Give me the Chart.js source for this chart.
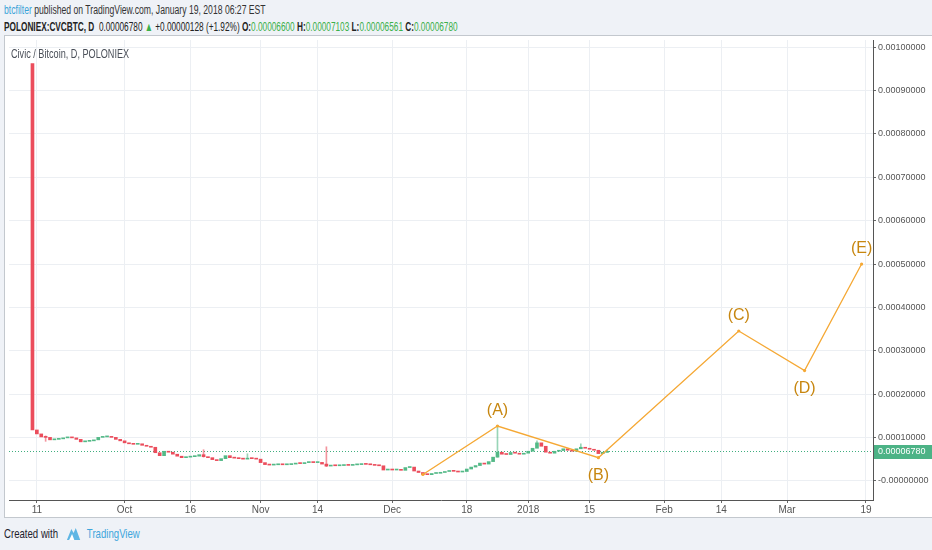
<!DOCTYPE html>
<html>
<head>
<meta charset="utf-8">
<script src="https://cdn.jsdelivr.net/npm/chart.js@4.4.1/dist/chart.umd.min.js"></script>
<style>
  body { margin: 0; width: 932px; height: 550px; overflow: hidden; position: relative;
         background: #eff2f7; font-family: "Liberation Sans", Arial, sans-serif; }
  .narrow { transform-origin: 0 50%; white-space: nowrap; position: absolute; }
  .line1 { left: 4px; top: 3px; font-size: 12.5px; color: #333; transform: scaleX(0.69); }
  .line1 .user { color: #3aa2d8; }
  .line2 { left: 4px; top: 20px; font-size: 12.5px; color: #222; transform: scaleX(0.66); }
  .line2 b { font-weight: bold; }
  .line2 .g { color: #3bb04a; }
  .frame { position: absolute; left: 4px; top: 35px; width: 927px; height: 481px;
           border: 1px solid #c3c8ce; border-right: none; background: #fff; }
  .frame canvas { position: absolute; left: 0; top: 0; }
  .title { left: 6px; top: 11px; font-size: 12px; color: #4a4f58; transform: scaleX(0.76); }
  .footer { left: 4px; top: 526px; font-size: 13px; color: #1e222d; transform: scaleX(0.74); }
  .footer .tv { color: #3ea6dc; }
  .footer svg { vertical-align: -3px; margin: 0 6px 0 9px; }
</style>
</head>
<body>
<div class="narrow line1"><span class="user">btcfilter</span> published on TradingView.com, January 19, 2018 06:27 EST</div>
<div class="narrow line2"><b>POLONIEX:CVCBTC, D</b>&nbsp; 0.00006780 <span class="g">&#9650;</span> +0.00000128 (+1.92%) <b>O:</b><span class="g">0.00006600</span> <b>H:</b><span class="g">0.00007103</span> <b>L:</b><span class="g">0.00006561</span> <b>C:</b><span class="g">0.00006780</span></div>
<div class="frame">
  <canvas id="chart" width="927" height="481"></canvas>
  <div class="narrow title">Civic / Bitcoin, D, POLONIEX</div>
</div>
<div class="narrow footer">Created with<svg width="24" height="15" viewBox="0 0 20 15"><path d="M1 14 L7 3 L10 7 L13 2 L19 14 Z" fill="#5fb6e4"/><path d="M4 14 L8 8 L11 14 Z" fill="#fff"/></svg><span class="tv">TradingView</span></div>

<script>
// daily candles, first candle is Sep 10 (day -1, day 0 = Sep 11)
const firstDay = -1;
const firstOpen = 0.000962;
const closes = [
  0.0001175, 0.0001084, 0.0001015, 0.0001004, 0.0000947, 0.0000958, 0.0000970, 0.0000992, 0.0001015, 0.0000992,
  0.0000958, 0.0000901, 0.0000913, 0.0000924, 0.0000947, 0.0001004, 0.0001015, 0.0001027, 0.0001004, 0.0000958,
  0.0000924, 0.0000878, 0.0000856, 0.0000844, 0.0000856, 0.0000821, 0.0000799, 0.0000776, 0.0000650, 0.0000582,
  0.0000684, 0.0000662, 0.0000616, 0.0000570, 0.0000536, 0.0000548, 0.0000559, 0.0000570, 0.0000605, 0.0000559,
  0.0000536, 0.0000491, 0.0000468, 0.0000513, 0.0000582, 0.0000536, 0.0000525, 0.0000513, 0.0000502, 0.0000525,
  0.0000513, 0.0000502, 0.0000422, 0.0000376, 0.0000365, 0.0000372, 0.0000376, 0.0000372, 0.0000376, 0.0000388,
  0.0000411, 0.0000399, 0.0000422, 0.0000433, 0.0000422, 0.0000427, 0.0000388, 0.0000342, 0.0000354, 0.0000349,
  0.0000354, 0.0000365, 0.0000358, 0.0000370, 0.0000376, 0.0000388, 0.0000381, 0.0000372, 0.0000358, 0.0000349,
  0.0000251, 0.0000274, 0.0000251, 0.0000262, 0.0000244, 0.0000308, 0.0000319, 0.0000228, 0.0000194, 0.0000148,
  0.0000144, 0.0000171, 0.0000176, 0.0000194, 0.0000217, 0.0000240, 0.0000221, 0.0000205, 0.0000217, 0.0000274,
  0.0000319, 0.0000354, 0.0000411, 0.0000388, 0.0000445, 0.0000548, 0.0000662, 0.0000616, 0.0000609, 0.0000655,
  0.0000639, 0.0000616, 0.0000639, 0.0000684, 0.0000753, 0.0000878, 0.0000799, 0.0000662, 0.0000639, 0.0000684,
  0.0000700, 0.0000741, 0.0000707, 0.0000684, 0.0000741, 0.0000776, 0.0000753, 0.0000730, 0.0000707, 0.0000630,
  0.0000660, 0.0000678
];

// the wicks that are visible in the picture
const wickDays  = [2, 38, 48, 66, 105, 114, 124, 130];
const wickLows  = [0.0000913, 0.0000548, 0.0000513, 0.0000331, 0.0000548, 0.0000780, 0.0000753, 0.00006561];
const wickHighs = [0.0001038, 0.0000719, 0.0000627, 0.0000787, 0.0001266, 0.0000924, 0.0000856, 0.00007103];

// drawn wave (A)-(E)
const waveDays   = [88, 105, 128, 160, 175, 188];
const waveValues = [0.0000148, 0.0001266, 0.0000536, 0.0003457, 0.0002544, 0.0005000];
const waveLabels = ['', '(A)', '(B)', '(C)', '(D)', '(E)'];

const lastPrice = 0.0000678;

const xTickDays   = [0, 20, 35, 51, 64, 81, 98, 112, 126, 143, 156, 171, 189];
const xTickLabels = ['11', 'Oct', '16', 'Nov', '14', 'Dec', '18', '2018', '15', 'Feb', '14', 'Mar', '19'];
const yTickValues = [0, 0.0001, 0.0002, 0.0003, 0.0004, 0.0005, 0.0006, 0.0007, 0.0008, 0.0009, 0.001];
const yTickLabels = ['-0.00000000', '0.00010000', '0.00020000', '0.00030000', '0.00040000', '0.00050000',
                     '0.00060000', '0.00070000', '0.00080000', '0.00090000', '0.00100000'];

const upColor = '#53b987';
const downColor = '#eb4d5c';
const xMin = -6.35, xMax = 190.6;

const bodies = [];
const bodyColors = [];
let open = firstOpen;
closes.forEach((c, i) => {
    bodies.push({ x: firstDay + i, y: [open, c] });
    bodyColors.push(c >= open ? upColor : downColor);
    open = c;
});
const wicks = wickDays.map((d, i) => ({ x: d, y: [wickLows[i], wickHighs[i]] }));
const wickColors = wickDays.map(d => bodyColors[d - firstDay] + '99');

const labelPlugin = {
    id: 'waveLabels',
    afterDatasetsDraw(chart) {
        const ctx = chart.ctx;
        const meta = chart.getDatasetMeta(3);
        ctx.save();
        ctx.font = '16px "Liberation Sans", Arial, sans-serif';
        ctx.fillStyle = '#c7860f';
        ctx.textAlign = 'center';
        ctx.textBaseline = 'middle';
        meta.data.forEach((pt, i) => {
            if (!waveLabels[i]) return;
            const up = waveValues[i] > waveValues[i - 1];
            ctx.fillText(waveLabels[i], pt.x, up ? pt.y - 15 : pt.y + 18);
        });
        ctx.restore();
    },
    afterDraw(chart) {
        const ctx = chart.ctx;
        const y = Math.round(chart.scales.y.getPixelForValue(lastPrice));
        const left = chart.chartArea.right + 1;
        ctx.save();
        ctx.fillStyle = '#4cb386';
        ctx.fillRect(left, y - 7, chart.width - left, 14);
        ctx.fillStyle = '#fff';
        ctx.font = '9px "Liberation Sans", Arial, sans-serif';
        ctx.textBaseline = 'middle';
        ctx.fillText(lastPrice.toFixed(8), left + 4, y);
        ctx.restore();
    }
};

new Chart(document.getElementById('chart'), {
    type: 'bar',
    data: {
        datasets: [
            {
                type: 'line', order: 3,
                data: [{ x: xMin, y: lastPrice }, { x: xMax, y: lastPrice }],
                borderColor: '#3fae7f', borderWidth: 1, borderDash: [1, 2], pointRadius: 0
            },
            {
                order: 2, grouped: false, data: wicks,
                backgroundColor: wickColors, barThickness: 1
            },
            {
                order: 1, grouped: false, data: bodies,
                backgroundColor: bodyColors, barThickness: 3, minBarLength: 1
            },
            {
                type: 'line', order: 0,
                data: waveDays.map((d, i) => ({ x: d, y: waveValues[i] })),
                borderColor: '#f5a834', borderWidth: 1.3, tension: 0,
                pointRadius: 1.6, pointBackgroundColor: '#f5a834', pointBorderWidth: 0
            }
        ]
    },
    options: {
        responsive: false,
        animation: false,
        layout: { padding: 0 },
        plugins: { legend: { display: false }, tooltip: { enabled: false } },
        scales: {
            x: {
                type: 'linear', min: xMin, max: xMax, offset: false,
                afterBuildTicks: s => { s.ticks = xTickDays.map(v => ({ value: v })); },
                afterFit: s => { s.height = 17; s.paddingLeft = 0; s.paddingRight = 0; },
                ticks: {
                    autoSkip: false, maxRotation: 0, padding: 1,
                    color: '#555', font: { size: 10, family: '"Liberation Sans", Arial, sans-serif' },
                    callback: (v, i) => xTickLabels[i]
                },
                grid: { offset: false, color: '#eceff3', tickColor: '#666', tickLength: 3 },
                border: { color: '#555', width: 1 }
            },
            y: {
                position: 'right', min: -0.000044, max: 0.0010166,
                afterBuildTicks: s => { s.ticks = yTickValues.map(v => ({ value: v })); },
                afterFit: s => { s.width = 59; s.paddingTop = 0; s.paddingBottom = 0; },
                ticks: {
                    padding: 2,
                    color: '#555', font: { size: 9, family: '"Liberation Sans", Arial, sans-serif' },
                    callback: (v, i) => yTickLabels[i]
                },
                grid: { color: '#eceff3', tickColor: '#666', tickLength: 3 },
                border: { color: '#555', width: 1 }
            }
        }
    },
    plugins: [labelPlugin]
});
</script>
</body>
</html>
